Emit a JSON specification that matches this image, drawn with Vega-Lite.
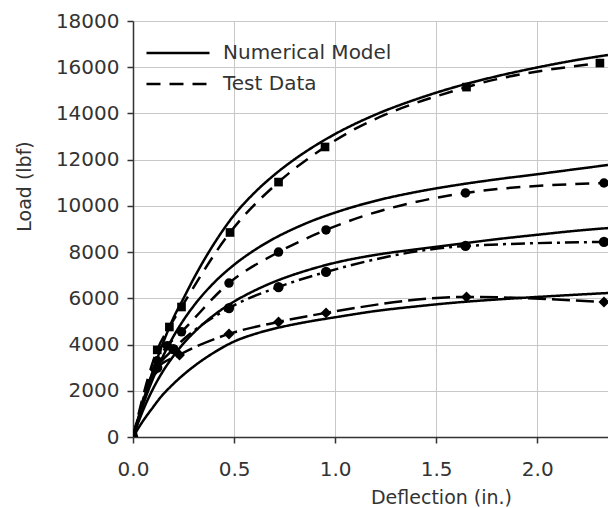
{
  "$schema": "https://vega.github.io/schema/vega-lite/v6.json",
  "width": 475,
  "height": 416,
  "autosize": {"type": "none"},
  "padding": {"left": 133, "top": 21, "right": 0, "bottom": 71},
  "background": "white",
  "config": {
    "view": {"stroke": null},
    "font": "DejaVu Sans"
  },
  "data": {
    "values": [
      {"id": "M1", "style": "Numerical Model", "x": 0, "y": 0},
      {"id": "M1", "style": "Numerical Model", "x": 0.05, "y": 1550},
      {"id": "M1", "style": "Numerical Model", "x": 0.1, "y": 2900},
      {"id": "M1", "style": "Numerical Model", "x": 0.15, "y": 4100},
      {"id": "M1", "style": "Numerical Model", "x": 0.2, "y": 5150},
      {"id": "M1", "style": "Numerical Model", "x": 0.25, "y": 6000},
      {"id": "M1", "style": "Numerical Model", "x": 0.3, "y": 6850},
      {"id": "M1", "style": "Numerical Model", "x": 0.4, "y": 8350},
      {"id": "M1", "style": "Numerical Model", "x": 0.5, "y": 9600},
      {"id": "M1", "style": "Numerical Model", "x": 0.6, "y": 10560},
      {"id": "M1", "style": "Numerical Model", "x": 0.7, "y": 11350},
      {"id": "M1", "style": "Numerical Model", "x": 0.8, "y": 12020},
      {"id": "M1", "style": "Numerical Model", "x": 0.9, "y": 12600},
      {"id": "M1", "style": "Numerical Model", "x": 1.0, "y": 13110},
      {"id": "M1", "style": "Numerical Model", "x": 1.2, "y": 13950},
      {"id": "M1", "style": "Numerical Model", "x": 1.4, "y": 14610},
      {"id": "M1", "style": "Numerical Model", "x": 1.6, "y": 15160},
      {"id": "M1", "style": "Numerical Model", "x": 1.8, "y": 15610},
      {"id": "M1", "style": "Numerical Model", "x": 2.0, "y": 15990},
      {"id": "M1", "style": "Numerical Model", "x": 2.2, "y": 16320},
      {"id": "M1", "style": "Numerical Model", "x": 2.35, "y": 16530},

      {"id": "M2", "style": "Numerical Model", "x": 0, "y": 0},
      {"id": "M2", "style": "Numerical Model", "x": 0.05, "y": 1400},
      {"id": "M2", "style": "Numerical Model", "x": 0.1, "y": 2550},
      {"id": "M2", "style": "Numerical Model", "x": 0.15, "y": 3520},
      {"id": "M2", "style": "Numerical Model", "x": 0.2, "y": 4350},
      {"id": "M2", "style": "Numerical Model", "x": 0.25, "y": 5060},
      {"id": "M2", "style": "Numerical Model", "x": 0.3, "y": 5670},
      {"id": "M2", "style": "Numerical Model", "x": 0.4, "y": 6670},
      {"id": "M2", "style": "Numerical Model", "x": 0.5, "y": 7450},
      {"id": "M2", "style": "Numerical Model", "x": 0.6, "y": 8080},
      {"id": "M2", "style": "Numerical Model", "x": 0.7, "y": 8600},
      {"id": "M2", "style": "Numerical Model", "x": 0.8, "y": 9030},
      {"id": "M2", "style": "Numerical Model", "x": 0.9, "y": 9400},
      {"id": "M2", "style": "Numerical Model", "x": 1.0, "y": 9710},
      {"id": "M2", "style": "Numerical Model", "x": 1.2, "y": 10220},
      {"id": "M2", "style": "Numerical Model", "x": 1.4, "y": 10600},
      {"id": "M2", "style": "Numerical Model", "x": 1.6, "y": 10900},
      {"id": "M2", "style": "Numerical Model", "x": 1.8, "y": 11150},
      {"id": "M2", "style": "Numerical Model", "x": 2.0, "y": 11370},
      {"id": "M2", "style": "Numerical Model", "x": 2.2, "y": 11600},
      {"id": "M2", "style": "Numerical Model", "x": 2.35, "y": 11770},

      {"id": "M3", "style": "Numerical Model", "x": 0, "y": 0},
      {"id": "M3", "style": "Numerical Model", "x": 0.05, "y": 1160},
      {"id": "M3", "style": "Numerical Model", "x": 0.1, "y": 2100},
      {"id": "M3", "style": "Numerical Model", "x": 0.15, "y": 2870},
      {"id": "M3", "style": "Numerical Model", "x": 0.2, "y": 3500},
      {"id": "M3", "style": "Numerical Model", "x": 0.25, "y": 4050},
      {"id": "M3", "style": "Numerical Model", "x": 0.3, "y": 4510},
      {"id": "M3", "style": "Numerical Model", "x": 0.4, "y": 5270},
      {"id": "M3", "style": "Numerical Model", "x": 0.5, "y": 5860},
      {"id": "M3", "style": "Numerical Model", "x": 0.6, "y": 6330},
      {"id": "M3", "style": "Numerical Model", "x": 0.7, "y": 6720},
      {"id": "M3", "style": "Numerical Model", "x": 0.8, "y": 7040},
      {"id": "M3", "style": "Numerical Model", "x": 0.9, "y": 7310},
      {"id": "M3", "style": "Numerical Model", "x": 1.0, "y": 7540},
      {"id": "M3", "style": "Numerical Model", "x": 1.2, "y": 7880},
      {"id": "M3", "style": "Numerical Model", "x": 1.4, "y": 8120},
      {"id": "M3", "style": "Numerical Model", "x": 1.6, "y": 8340},
      {"id": "M3", "style": "Numerical Model", "x": 1.8, "y": 8560},
      {"id": "M3", "style": "Numerical Model", "x": 2.0, "y": 8750},
      {"id": "M3", "style": "Numerical Model", "x": 2.2, "y": 8930},
      {"id": "M3", "style": "Numerical Model", "x": 2.35, "y": 9040},

      {"id": "M4", "style": "Numerical Model", "x": 0, "y": 0},
      {"id": "M4", "style": "Numerical Model", "x": 0.05, "y": 700},
      {"id": "M4", "style": "Numerical Model", "x": 0.1, "y": 1300},
      {"id": "M4", "style": "Numerical Model", "x": 0.13, "y": 1650},
      {"id": "M4", "style": "Numerical Model", "x": 0.2, "y": 2300},
      {"id": "M4", "style": "Numerical Model", "x": 0.3, "y": 3050},
      {"id": "M4", "style": "Numerical Model", "x": 0.4, "y": 3650},
      {"id": "M4", "style": "Numerical Model", "x": 0.5, "y": 4130},
      {"id": "M4", "style": "Numerical Model", "x": 0.6, "y": 4450},
      {"id": "M4", "style": "Numerical Model", "x": 0.7, "y": 4690},
      {"id": "M4", "style": "Numerical Model", "x": 0.8, "y": 4880},
      {"id": "M4", "style": "Numerical Model", "x": 0.9, "y": 5040},
      {"id": "M4", "style": "Numerical Model", "x": 1.0, "y": 5180},
      {"id": "M4", "style": "Numerical Model", "x": 1.2, "y": 5450},
      {"id": "M4", "style": "Numerical Model", "x": 1.4, "y": 5650},
      {"id": "M4", "style": "Numerical Model", "x": 1.6, "y": 5820},
      {"id": "M4", "style": "Numerical Model", "x": 1.8, "y": 5950},
      {"id": "M4", "style": "Numerical Model", "x": 2.0, "y": 6060},
      {"id": "M4", "style": "Numerical Model", "x": 2.2, "y": 6160},
      {"id": "M4", "style": "Numerical Model", "x": 2.35, "y": 6231},

      {"id": "T1", "style": "Test Data", "x": 0, "y": 0},
      {"id": "T1", "style": "Test Data", "x": 0.12, "y": 3770},
      {"id": "T1", "style": "Test Data", "x": 0.18, "y": 4760},
      {"id": "T1", "style": "Test Data", "x": 0.24, "y": 5625},
      {"id": "T1", "style": "Test Data", "x": 0.48, "y": 8850},
      {"id": "T1", "style": "Test Data", "x": 0.72, "y": 11030},
      {"id": "T1", "style": "Test Data", "x": 0.95, "y": 12550},
      {"id": "T1", "style": "Test Data", "x": 1.65, "y": 15140},
      {"id": "T1", "style": "Test Data", "x": 2.31, "y": 16180},

      {"id": "T2", "style": "Test Data", "x": 0, "y": 0},
      {"id": "T2", "style": "Test Data", "x": 0.12, "y": 3300},
      {"id": "T2", "style": "Test Data", "x": 0.17, "y": 3950},
      {"id": "T2", "style": "Test Data", "x": 0.24, "y": 4550},
      {"id": "T2", "style": "Test Data", "x": 0.475, "y": 6660},
      {"id": "T2", "style": "Test Data", "x": 0.72, "y": 8000},
      {"id": "T2", "style": "Test Data", "x": 0.955, "y": 8960},
      {"id": "T2", "style": "Test Data", "x": 1.645, "y": 10560},
      {"id": "T2", "style": "Test Data", "x": 2.33, "y": 10990},

      {"id": "T3", "style": "Test Data B", "x": 0, "y": 0},
      {"id": "T3", "style": "Test Data B", "x": 0.12, "y": 3000},
      {"id": "T3", "style": "Test Data B", "x": 0.2, "y": 3800},
      {"id": "T3", "style": "Test Data B", "x": 0.475, "y": 5580},
      {"id": "T3", "style": "Test Data B", "x": 0.72, "y": 6490},
      {"id": "T3", "style": "Test Data B", "x": 0.955, "y": 7140},
      {"id": "T3", "style": "Test Data B", "x": 1.645, "y": 8265},
      {"id": "T3", "style": "Test Data B", "x": 2.33, "y": 8440},

      {"id": "T4", "style": "Test Data C", "x": 0, "y": 0},
      {"id": "T4", "style": "Test Data C", "x": 0.11, "y": 2900},
      {"id": "T4", "style": "Test Data C", "x": 0.23, "y": 3550},
      {"id": "T4", "style": "Test Data C", "x": 0.475, "y": 4460},
      {"id": "T4", "style": "Test Data C", "x": 0.72, "y": 4980},
      {"id": "T4", "style": "Test Data C", "x": 0.955, "y": 5370},
      {"id": "T4", "style": "Test Data C", "x": 1.65, "y": 6060},
      {"id": "T4", "style": "Test Data C", "x": 2.33, "y": 5840}
    ]
  },
  "encoding": {
    "x": {
      "field": "x", "type": "quantitative",
      "scale": {"domain": [0, 2.35], "nice": false, "zero": true},
      "axis": {
        "values": [0, 0.5, 1, 1.5, 2],
        "format": ".1f",
        "grid": true, "gridColor": "#c8c8c8", "gridWidth": 1,
        "domainColor": "#333", "domainWidth": 1.5,
        "tickColor": "#333", "tickSize": 6, "tickWidth": 1.5,
        "labelFont": "DejaVu Sans", "labelFontSize": 20, "labelColor": "#333",
        "labelPadding": 16, "labelFlush": false, "labelOverlap": false,
        "title": "Deflection (in.)",
        "titleFont": "DejaVu Sans", "titleFontSize": 19, "titleFontWeight": "normal", "titleColor": "#333",
        "titleX": 308, "titleY": 66, "titleBaseline": "alphabetic", "titleAlign": "center"
      }
    },
    "y": {
      "field": "y", "type": "quantitative",
      "scale": {"domain": [0, 18000], "nice": false},
      "axis": {
        "values": [0, 2000, 4000, 6000, 8000, 10000, 12000, 14000, 16000, 18000],
        "format": "d",
        "grid": true, "gridColor": "#c8c8c8", "gridWidth": 1,
        "domainColor": "#333", "domainWidth": 1.5,
        "tickColor": "#333", "tickSize": 6, "tickWidth": 1.5,
        "labelFont": "DejaVu Sans", "labelFontSize": 20, "labelColor": "#333",
        "labelPadding": 8, "labelFlush": false, "labelOverlap": false,
        "title": "Load (lbf)",
        "titleFont": "DejaVu Sans", "titleFontSize": 19, "titleFontWeight": "normal", "titleColor": "#333",
        "titleAngle": -90, "titleX": -109, "titleY": 165, "titleBaseline": "middle", "titleAlign": "center"
      }
    }
  },
  "layer": [
    {
      "mark": {"type": "line", "color": "black", "strokeWidth": 2.5, "interpolate": "monotone", "clip": true},
      "encoding": {
        "detail": {"field": "id"},
        "strokeDash": {
          "field": "style", "type": "nominal",
          "scale": {
            "domain": ["Numerical Model", "Test Data", "Test Data B", "Test Data C"],
            "range": [[1, 0], [14, 9], [14, 5, 3, 5], [18, 6]]
          },
          "legend": {
            "values": ["Numerical Model", "Test Data"],
            "title": null,
            "orient": "none",
            "legendX": 12,
            "legendY": 17,
            "padding": 0,
            "symbolType": "stroke",
            "symbolSize": 3969,
            "symbolStrokeWidth": 2.5,
            "symbolStrokeColor": "black",
            "labelFont": "DejaVu Sans",
            "labelFontSize": 20,
            "labelColor": "#333",
            "labelOffset": 12,
            "labelLimit": 400,
            "clipHeight": 30,
            "rowPadding": 1
          }
        }
      }
    },
    {
      "transform": [{"filter": "datum.style != 'Numerical Model'"}],
      "mark": {"type": "point", "filled": true, "color": "black", "opacity": 1, "clip": true},
      "encoding": {
        "shape": {
          "field": "id", "type": "nominal",
          "scale": {"domain": ["T1", "T2", "T3", "T4"], "range": ["square", "circle", "circle", "diamond"]},
          "legend": null
        },
        "size": {
          "field": "id", "type": "nominal",
          "scale": {"domain": ["T1", "T2", "T3", "T4"], "range": [75, 120, 120, 45]},
          "legend": null
        }
      }
    }
  ]
}
